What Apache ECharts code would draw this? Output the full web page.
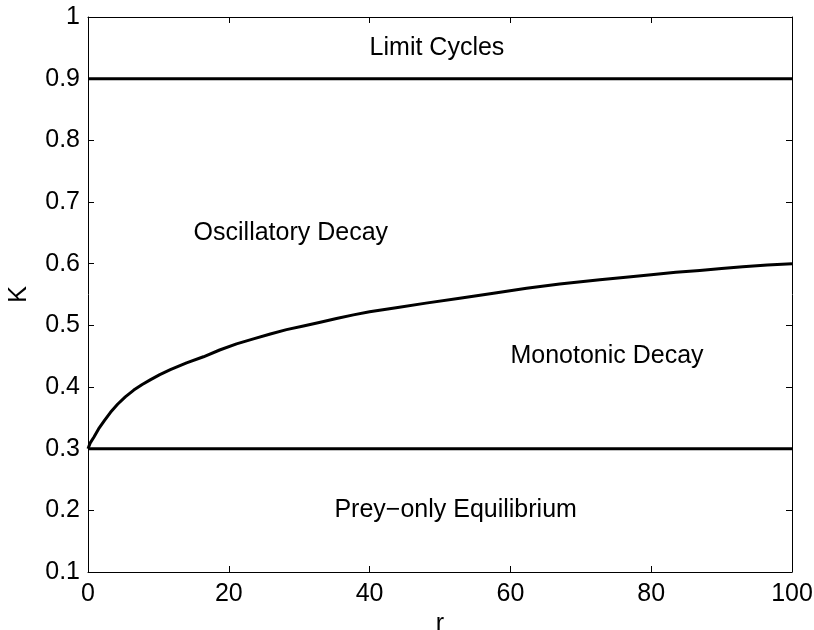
<!DOCTYPE html>
<html>
<head>
<meta charset="utf-8">
<script src="https://cdn.jsdelivr.net/npm/echarts@6/dist/echarts.min.js"></script>
<style>
html,body{margin:0;padding:0;background:#fff;}
#chart{width:814px;height:630px;}
</style>
</head>
<body>
<div id="chart"></div>
<script>
// Boundary curve between oscillatory and monotonic decay
var rValues = [0, 0.3, 0.85, 1.5, 2.3, 3.2, 4.2, 5.3, 6.5, 7.7, 8.9, 10.2, 11.7, 14, 16.4, 18.7, 21.1, 23.5, 25.9, 28.2, 30.6, 33, 35.3, 37.7, 40, 44, 48, 52.8, 57.6, 62.3, 67, 72.7, 76.4, 80, 83.5, 86.9, 90, 93, 96.5, 100];
var kValues = [0.3, 0.309, 0.319, 0.332, 0.345, 0.359, 0.372, 0.384, 0.395, 0.404, 0.412, 0.420, 0.428, 0.439, 0.449, 0.460, 0.470, 0.478, 0.486, 0.493, 0.499, 0.505, 0.511, 0.517, 0.522, 0.529, 0.536, 0.544, 0.552, 0.560, 0.567, 0.574, 0.578, 0.582, 0.586, 0.589, 0.592, 0.595, 0.598, 0.6];
// Horizontal boundaries
var lowerK = 0.3;
var upperK = 0.9;
var rRange = [0, 100];
// Region labels
var regionNames = ['Limit Cycles', 'Oscillatory Decay', 'Monotonic Decay', 'Prey\u2212only Equilibrium'];
var regionR = [40, 15, 60, 35];
var regionK = [0.95, 0.65, 0.45, 0.2];
// Axes
var xTicks = [0, 20, 40, 60, 80, 100];
var yTicks = [0.1, 0.2, 0.3, 0.4, 0.5, 0.6, 0.7, 0.8, 0.9, 1];

var FONT = '"Liberation Sans", Arial, Helvetica, sans-serif';
var FS = 25;

var curve = rValues.map(function (r, i) { return [r, kValues[i]]; });
var lower = rRange.map(function (r) { return [r, lowerK]; });
var upper = rRange.map(function (r) { return [r, upperK]; });
var labels = regionNames.map(function (n, i) { return { name: n, value: [regionR[i], regionK[i]] }; });

var baseX = {
  type: 'value', min: xTicks[0], max: xTicks[xTicks.length - 1], interval: xTicks[1] - xTicks[0],
  splitLine: { show: false },
  axisLine: { show: true, onZero: false, lineStyle: { color: '#000', width: 1 } },
  axisTick: { show: true, inside: true, length: 6, lineStyle: { color: '#000', width: 1 } }
};
var baseY = {
  type: 'value', min: yTicks[0], max: yTicks[yTicks.length - 1], interval: 0.1,
  splitLine: { show: false },
  axisLine: { show: true, onZero: false, lineStyle: { color: '#000', width: 1 } },
  axisTick: { show: true, inside: true, length: 6, lineStyle: { color: '#000', width: 1 } }
};

var chart = echarts.init(document.getElementById('chart'), null, { renderer: 'canvas' });
chart.setOption({
  animation: false,
  backgroundColor: '#fff',
  grid: { left: 88, right: 22, top: 17, bottom: 58, containLabel: false, outerBoundsMode: 'none' },
  xAxis: [
    Object.assign({}, baseX, {
      position: 'bottom',
      name: 'r', nameLocation: 'middle', nameGap: 40, nameMoveOverlap: false,
      nameTextStyle: { fontFamily: FONT, fontSize: FS, color: '#000' },
      axisLabel: { show: true, margin: 10, fontFamily: FONT, fontSize: FS, color: '#000' }
    }),
    Object.assign({}, baseX, { position: 'top', axisLabel: { show: false } })
  ],
  yAxis: [
    Object.assign({}, baseY, {
      position: 'left',
      name: 'K', nameLocation: 'middle', nameGap: 56, nameRotate: 90, nameMoveOverlap: false,
      nameTextStyle: { fontFamily: FONT, fontSize: FS, color: '#000' },
      axisLabel: {
        show: true, margin: 8, fontFamily: FONT, fontSize: FS, color: '#000',
        formatter: function (v) { return String(Math.round(v * 10) / 10); }
      }
    }),
    Object.assign({}, baseY, { position: 'right', axisLabel: { show: false } })
  ],
  series: [
    { type: 'line', data: upper, symbol: 'none', lineStyle: { color: '#000', width: 3 } },
    { type: 'line', data: lower, symbol: 'none', lineStyle: { color: '#000', width: 3 } },
    { type: 'line', data: curve, symbol: 'none', smooth: false, lineStyle: { color: '#000', width: 3, join: 'round' } },
    {
      type: 'scatter', data: labels, symbolSize: 0, silent: true,
      itemStyle: { color: '#000', opacity: 1 },
      label: {
        show: true, position: 'right', distance: 0,
        formatter: function (p) { return p.name; },
        fontFamily: FONT, fontSize: FS, color: '#000', opacity: 1,
        textBorderWidth: 0
      }
    }
  ]
});
</script>
</body>
</html>
